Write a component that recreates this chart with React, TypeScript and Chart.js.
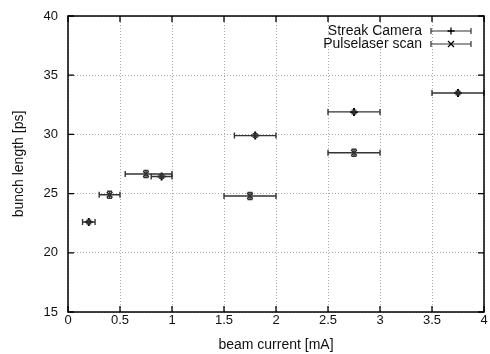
import React, { useEffect, useRef } from "react";
import { Chart, registerables } from "chart.js";

Chart.register(...registerables);

const xTicks = [0, 0.5, 1, 1.5, 2, 2.5, 3, 3.5, 4];
const yTicks = [15, 20, 25, 30, 35, 40];

const streakLabel = "Streak Camera";
const streakX = [0.2, 0.9, 1.8, 2.75, 3.75];
const streakY = [22.6, 26.45, 29.9, 31.9, 33.5];
const streakXLow = [0.14, 0.8, 1.6, 2.5, 3.5];
const streakXHigh = [0.26, 1.0, 2.0, 3.0, 4.0];
const streakYErr = [0.15, 0.15, 0.15, 0.15, 0.15];

const pulseLabel = "Pulselaser scan";
const pulseX = [0.4, 0.75, 1.75, 2.75];
const pulseY = [24.9, 26.65, 24.8, 28.45];
const pulseXLow = [0.3, 0.55, 1.5, 2.5];
const pulseXHigh = [0.5, 1.0, 2.0, 3.0];
const pulseYErr = [0.3, 0.3, 0.3, 0.3];

const FONT = "'Liberation Sans', Arial, Helvetica, sans-serif";

const errLow = [streakXLow, pulseXLow];
const errHigh = [streakXHigh, pulseXHigh];
const errY = [streakYErr, pulseYErr];

const errorBarPlugin = {
  id: "errorBars",
  afterDatasetsDraw(chart: any) {
    const ctx = chart.ctx;
    const xs = chart.scales.x;
    const ys = chart.scales.y;
    ctx.save();
    chart.data.datasets.forEach((ds: any, di: number) => {
      ds.data.forEach((p: any, i: number) => {
        const y = ys.getPixelForValue(p.y);
        const x = xs.getPixelForValue(p.x);
        const x0 = xs.getPixelForValue(errLow[di][i]);
        const x1 = xs.getPixelForValue(errHigh[di][i]);
        ctx.strokeStyle = "#333";
        ctx.lineWidth = 1.4;
        ctx.beginPath();
        ctx.moveTo(x0, y);
        ctx.lineTo(x1, y);
        ctx.moveTo(x0, y - 3);
        ctx.lineTo(x0, y + 3);
        ctx.moveTo(x1, y - 3);
        ctx.lineTo(x1, y + 3);
        const yt = ys.getPixelForValue(p.y + errY[di][i]);
        const yb = ys.getPixelForValue(p.y - errY[di][i]);
        ctx.moveTo(x, yt);
        ctx.lineTo(x, yb);
        ctx.moveTo(x - 2.5, yt);
        ctx.lineTo(x + 2.5, yt);
        ctx.moveTo(x - 2.5, yb);
        ctx.lineTo(x + 2.5, yb);
        ctx.stroke();
      });
    });
    ctx.restore();
  },
};

const framePlugin = {
  id: "frame",
  afterDraw(chart: any) {
    const ctx = chart.ctx;
    const a = chart.chartArea;
    const xs = chart.scales.x;
    const ys = chart.scales.y;
    ctx.save();
    ctx.strokeStyle = "#000";
    ctx.lineWidth = 1.5;
    ctx.strokeRect(a.left, a.top, a.right - a.left, a.bottom - a.top);
    ctx.lineWidth = 1.3;
    ctx.beginPath();
    xTicks.forEach((v) => {
      const x = xs.getPixelForValue(v);
      ctx.moveTo(x, a.bottom);
      ctx.lineTo(x, a.bottom - 6);
      ctx.moveTo(x, a.top);
      ctx.lineTo(x, a.top + 6);
    });
    yTicks.forEach((v) => {
      const y = ys.getPixelForValue(v);
      ctx.moveTo(a.left, y);
      ctx.lineTo(a.left + 6, y);
      ctx.moveTo(a.right, y);
      ctx.lineTo(a.right - 6, y);
    });
    ctx.stroke();

    // legend
    const labels = [streakLabel, pulseLabel];
    const styles = ["cross", "crossRot"];
    ctx.font = `14px ${FONT}`;
    ctx.fillStyle = "#111";
    ctx.textAlign = "right";
    ctx.textBaseline = "middle";
    labels.forEach((lab, i) => {
      const y = 31 + i * 13;
      ctx.fillText(lab, 422, y);
      const lx0 = 431;
      const lx1 = 471;
      ctx.strokeStyle = "#333";
      ctx.lineWidth = 1.2;
      ctx.beginPath();
      ctx.moveTo(lx0, y);
      ctx.lineTo(lx1, y);
      ctx.moveTo(lx0, y - 3);
      ctx.lineTo(lx0, y + 3);
      ctx.moveTo(lx1, y - 3);
      ctx.lineTo(lx1, y + 3);
      ctx.stroke();
      ctx.strokeStyle = "#000";
      ctx.lineWidth = 1.3;
      ctx.beginPath();
      const cx = 451;
      if (styles[i] === "cross") {
        ctx.moveTo(cx - 3.5, y);
        ctx.lineTo(cx + 3.5, y);
        ctx.moveTo(cx, y - 3.5);
        ctx.lineTo(cx, y + 3.5);
      } else {
        ctx.moveTo(cx - 3, y - 3);
        ctx.lineTo(cx + 3, y + 3);
        ctx.moveTo(cx - 3, y + 3);
        ctx.lineTo(cx + 3, y - 3);
      }
      ctx.stroke();
    });
    ctx.restore();
  },
};

export default function App() {
  const ref = useRef<HTMLCanvasElement>(null);
  useEffect(() => {
    document.body.style.margin = "0";
    const chart = new Chart(ref.current!, {
      type: "scatter",
      data: {
        datasets: [
          {
            label: streakLabel,
            data: streakX.map((x, i) => ({ x, y: streakY[i] })),
            pointStyle: "cross",
            pointRadius: 4,
            borderColor: "#000",
            backgroundColor: "#000",
            borderWidth: 2,
          },
          {
            label: pulseLabel,
            data: pulseX.map((x, i) => ({ x, y: pulseY[i] })),
            pointStyle: "crossRot",
            pointRadius: 4,
            borderColor: "#222",
            backgroundColor: "#222",
            borderWidth: 1.5,
          },
        ],
      },
      options: {
        animation: false,
        responsive: false,
        maintainAspectRatio: false,
        layout: { padding: { left: 0, top: 16, right: 3, bottom: 0 } },
        plugins: { legend: { display: false }, tooltip: { enabled: false } },
        scales: {
          x: {
            type: "linear",
            min: 0,
            max: 4,
            afterBuildTicks: (s: any) => {
              s.ticks = xTicks.map((v) => ({ value: v }));
            },
            afterFit: (s: any) => {
              s.height = 42;
              s.paddingLeft = 0;
              s.paddingRight = 0;
            },
            grid: {
              color: "#aaa",
              lineWidth: 1,
              borderDash: [1, 2],
              drawTicks: false,
            },
            border: { display: false, dash: [1, 2] },
            ticks: {
              padding: 1,
              color: "#111",
              font: { family: FONT, size: 13 },
              maxRotation: 0,
              callback: (v: any) => String(v),
            },
            title: {
              display: true,
              text: "beam current [mA]",
              color: "#111",
              font: { family: FONT, size: 14 },
              padding: { top: 9, bottom: 0 },
            },
          },
          y: {
            type: "linear",
            min: 15,
            max: 40,
            afterBuildTicks: (s: any) => {
              s.ticks = yTicks.map((v) => ({ value: v }));
            },
            afterFit: (s: any) => {
              s.width = 68;
              s.paddingTop = 0;
              s.paddingBottom = 0;
            },
            grid: {
              color: "#aaa",
              lineWidth: 1,
              borderDash: [1, 2],
              drawTicks: false,
            },
            border: { display: false, dash: [1, 2] },
            ticks: {
              padding: 10,
              color: "#111",
              font: { family: FONT, size: 13 },
              callback: (v: any) => String(v),
            },
            title: {
              display: true,
              text: "bunch length [ps]",
              color: "#111",
              font: { family: FONT, size: 14 },
              padding: { top: 11, bottom: 0 },
            },
          },
        },
      },
      plugins: [errorBarPlugin, framePlugin],
    } as any);
    return () => chart.destroy();
  }, []);
  return (
    <div style={{ width: 490, height: 354 }}>
      <canvas ref={ref} width={490} height={354} style={{ display: "block" }} />
    </div>
  );
}
